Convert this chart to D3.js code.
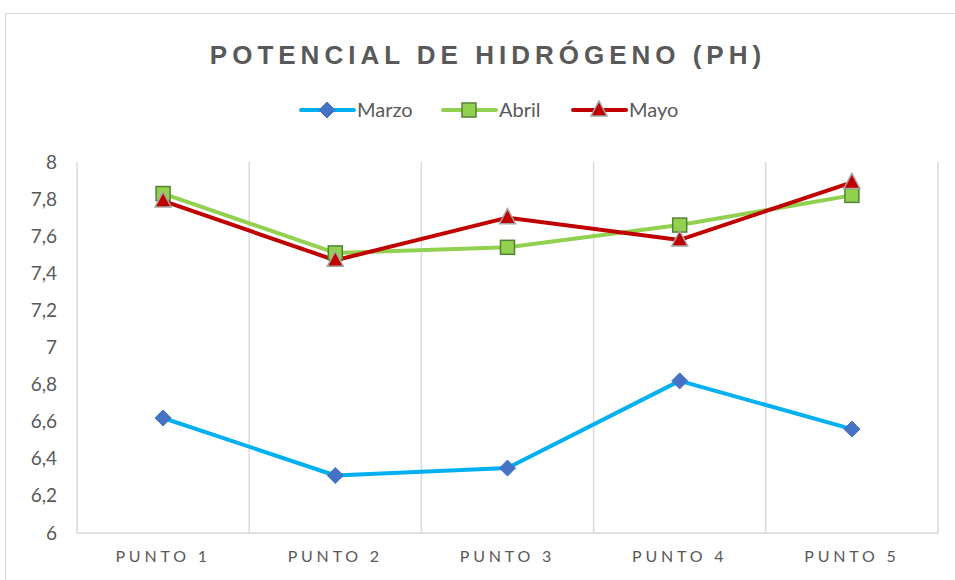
<!DOCTYPE html>
<html>
<head>
<meta charset="utf-8">
<script src="https://cdn.jsdelivr.net/npm/d3@7"></script>
<style>
	body { margin: 0; background: #fff; }
	svg { display: block; font-family: Lato, "Open Sans", sans-serif; }
</style>
</head>
<body>
<svg></svg>
<script>
// chart data
const categories = ['PUNTO 1', 'PUNTO 2', 'PUNTO 3', 'PUNTO 4', 'PUNTO 5'];
const marzo = [6.62, 6.31, 6.35, 6.82, 6.56];
const abril = [7.83, 7.51, 7.54, 7.66, 7.82];
const mayo = [7.79, 7.47, 7.70, 7.58, 7.89];
const yTicks = [6, 6.2, 6.4, 6.6, 6.8, 7, 7.2, 7.4, 7.6, 7.8, 8];

const series = [
	{ name: 'Marzo', values: marzo, color: '#00b0f0', marker: 'diamond' },
	{ name: 'Abril', values: abril, color: '#92d050', marker: 'square' },
	{ name: 'Mayo', values: mayo, color: '#c00000', marker: 'triangle' }
];

drawChart = () => {
	let svgWidth = 955,
		svgHeight = 580;
	let margin = { top: 162, right: 17, bottom: 47, left: 77 };
	let width = svgWidth - margin.left - margin.right;
	let height = svgHeight - margin.top - margin.bottom;

	let svg = d3.select('svg').attr('width', svgWidth).attr('height', svgHeight);

	// outer border
	svg.append('rect')
		.attr('x', 5.5).attr('y', 13.5)
		.attr('width', 960).attr('height', 580)
		.attr('fill', 'none').attr('stroke', '#d9d9d9');

	svg.append('text')
		.attr('x', 488).attr('y', 64)
		.attr('text-anchor', 'middle')
		.attr('fill', '#595959')
		.attr('font-size', 26).attr('font-weight', 'bold')
		.attr('font-family', '"Liberation Sans", Arial, sans-serif')
		.attr('letter-spacing', 5)
		.text('POTENCIAL DE HIDRÓGENO (PH)');

	let g = svg.append('g').attr('transform', 'translate(' + margin.left + ',' + margin.top + ')');

	let x = d3.scaleBand().domain(categories).range([0, width]);
	let y = d3.scaleLinear().domain([6, 8]).range([height, 0]);

	// vertical gridlines at category boundaries
	g.append('g')
		.selectAll('line')
		.data(categories)
		.join('line')
		.attr('x1', (d) => x(d) + x.bandwidth())
		.attr('x2', (d) => x(d) + x.bandwidth())
		.attr('y1', 0).attr('y2', height)
		.attr('stroke', '#d9d9d9').attr('stroke-width', 1.5);

	// left axis line
	g.append('line')
		.attr('x1', 0).attr('x2', 0).attr('y1', 0).attr('y2', height)
		.attr('stroke', '#d9d9d9').attr('stroke-width', 1.5);

	g.append('line')
		.attr('x1', 0).attr('x2', width).attr('y1', height).attr('y2', height)
		.attr('stroke', '#d9d9d9').attr('stroke-width', 1.5);

	let fmt = (d) => String(d).replace('.', ',');

	g.append('g')
		.call(d3.axisLeft(y).tickValues(yTicks).tickFormat(fmt).tickSize(0).tickPadding(20))
		.call((a) => a.select('.domain').remove())
		.selectAll('text')
		.attr('fill', '#595959')
		.attr('font-size', 19)
		.attr('font-family', 'Lato, "Open Sans", sans-serif');

	g.append('g')
		.attr('transform', 'translate(0,' + height + ')')
		.call(d3.axisBottom(x).tickSize(0).tickPadding(18))
		.call((a) => a.select('.domain').remove())
		.selectAll('text')
		.attr('fill', '#595959')
		.attr('font-size', 16)
		.attr('letter-spacing', 3.8)
		.attr('font-family', 'Lato, "Open Sans", sans-serif');

	let cx = (i) => x(categories[i]) + x.bandwidth() / 2;
	let line = d3.line().x((d, i) => cx(i)).y((d) => y(d));

	let drawMarker = (sel, s) => {
		if (s.marker === 'diamond') {
			sel.append('path').attr('d', 'M0,-8L8,0L0,8L-8,0Z')
				.attr('fill', '#4472c4').attr('stroke', '#4472c4');
		} else if (s.marker === 'square') {
			sel.append('rect').attr('x', -7).attr('y', -7).attr('width', 14).attr('height', 14)
				.attr('fill', '#92d050').attr('stroke', '#548235').attr('stroke-width', 1.5);
		} else {
			sel.append('path').attr('d', 'M0,-9L8,6L-8,6Z')
				.attr('fill', '#c00000').attr('stroke', '#a5a5a5').attr('stroke-width', 1.5);
		}
	};

	series.forEach((s) => {
		g.append('path')
			.datum(s.values)
			.attr('fill', 'none')
			.attr('stroke', s.color)
			.attr('stroke-width', 4)
			.attr('stroke-linejoin', 'round')
			.attr('d', line);
	});

	series.forEach((s) => {
		s.values.forEach((v, i) => {
			let m = g.append('g').attr('transform', 'translate(' + cx(i) + ',' + y(v) + ')');
			drawMarker(m, s);
		});
	});

	// legend
	let lg = svg.append('g');
	series.forEach((s, i) => {
		let item = lg.append('g').attr('transform', 'translate(' + [301, 443, 573][i] + ',110)');
		item.append('line')
			.attr('x1', 0).attr('x2', 53)
			.attr('stroke', s.color).attr('stroke-width', 4).attr('stroke-linecap', 'round');
		let m = item.append('g').attr('transform', 'translate(26,0)');
		drawMarker(m, s);
		item.append('text')
			.attr('x', 56).attr('y', 7)
			.attr('fill', '#595959')
			.attr('font-size', 20)
			.text(s.name);
	});
};

drawChart();
</script>
</body>
</html>
